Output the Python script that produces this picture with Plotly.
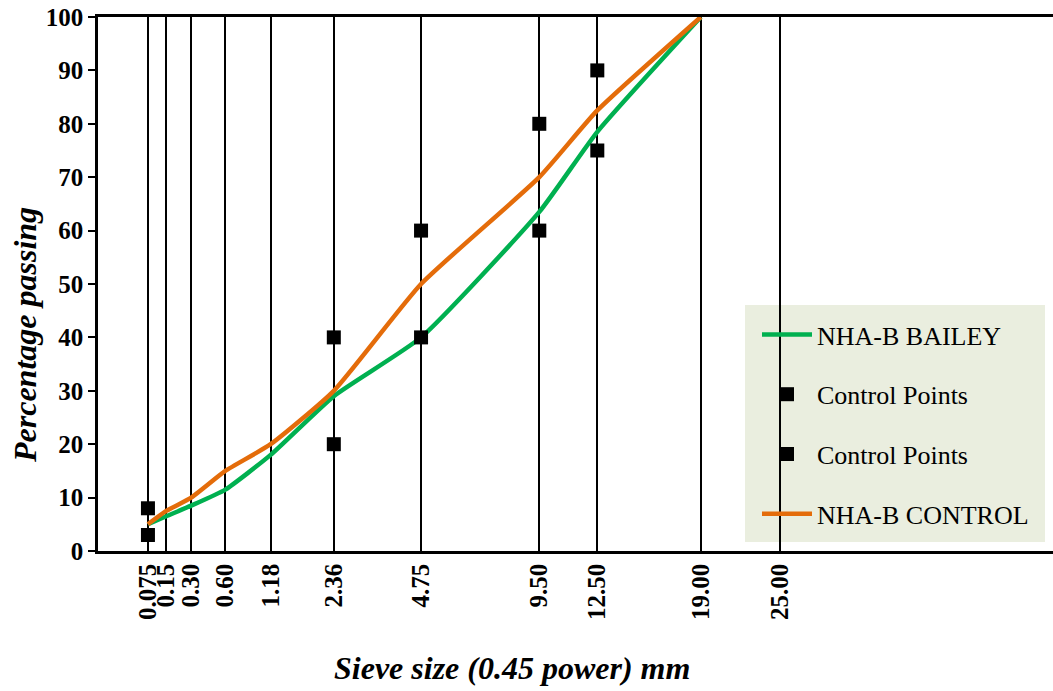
import plotly.graph_objects as go

sieve_sizes = [0.075, 0.15, 0.30, 0.60, 1.18, 2.36, 4.75, 9.50, 12.50, 19.00]
bailey = [5, 6.5, 8.5, 11.5, 18, 29, 40, 63.5, 78.5, 100]
control = [5, 7.5, 10, 15, 20, 30, 50, 70, 82.5, 100]

cp_sizes = [0.075, 2.36, 4.75, 9.50, 12.50]
cp_lower = [3, 20, 40, 60, 75]
cp_upper = [8, 40, 60, 80, 90]

tick_sizes = [0.075, 0.15, 0.30, 0.60, 1.18, 2.36, 4.75, 9.50, 12.50, 19.00, 25.00]
tick_labels = ["0.075", "0.15", "0.30", "0.60", "1.18", "2.36", "4.75", "9.50", "12.50", "19.00", "25.00"]

def p45(v):
    return [s ** 0.45 for s in v]

serif = "Liberation Serif, Times New Roman, serif"

fig = go.Figure()
fig.add_trace(go.Scatter(x=p45(sieve_sizes), y=bailey, mode="lines", name="NHA-B BAILEY",
                         line=dict(color="#00B050", width=4.5, shape="spline", smoothing=0.5),
                         legendgroup="a"))
fig.add_trace(go.Scatter(x=p45(cp_sizes), y=cp_lower, mode="markers", name="Control Points",
                         marker=dict(symbol="square", size=14, color="black"), legendgroup="b"))
fig.add_trace(go.Scatter(x=p45(cp_sizes), y=cp_upper, mode="markers", name="Control Points",
                         marker=dict(symbol="square", size=14, color="black"), legendgroup="c"))
fig.add_trace(go.Scatter(x=p45(sieve_sizes), y=control, mode="lines", name="NHA-B CONTROL",
                         line=dict(color="#E46C0A", width=4.5, shape="spline", smoothing=0.5),
                         legendgroup="d"))

# legend background box (grid line passes over it, as in the reference)
fig.add_shape(type="rect", xref="paper", yref="paper", layer="below",
              x0=(745 - 98) / 955, x1=(1045 - 98) / 955,
              y0=(551 - 542) / 534, y1=(551 - 305) / 534,
              fillcolor="#EAEEDF", line=dict(width=0))

fig.add_annotation(text="Percentage passing", xref="paper", yref="paper",
                   x=(25 - 98) / 955, y=(551 - 335) / 534, textangle=-90,
                   showarrow=False, xanchor="center", yanchor="middle",
                   font=dict(size=32, weight="bold", style="italic", family=serif))
fig.add_annotation(text="Sieve size (0.45 power) mm", xref="paper", yref="paper",
                   x=(512 - 98) / 955, y=(551 - 668) / 534,
                   showarrow=False, xanchor="center", yanchor="middle",
                   font=dict(size=32, weight="bold", style="italic", family=serif))

fig.update_layout(
    width=1053, height=691,
    margin=dict(l=98, r=0, t=17, b=140),
    paper_bgcolor="white", plot_bgcolor="white",
    font=dict(family=serif, color="black"),
    legend=dict(x=(757 - 98) / 955, y=(551 - 311) / 534, xanchor="left", yanchor="top",
                bgcolor="rgba(0,0,0,0)", font=dict(size=26, family=serif),
                traceorder="grouped", tracegroupgap=23, itemwidth=50),
    xaxis=dict(range=[0, 5.96], tickvals=p45(tick_sizes), ticktext=tick_labels,
               tickangle=-90, tickfont=dict(size=25, weight="bold"),
               showgrid=True, gridcolor="black", gridwidth=1.8,
               showline=True, linecolor="black", linewidth=2.5, mirror=True,
               ticks="", zeroline=False, automargin=False),
    yaxis=dict(range=[0, 100], dtick=10, tickfont=dict(size=25, weight="bold"),
               showgrid=False, showline=True, linecolor="black", linewidth=2.5,
               ticks="outside", ticklen=7, tickcolor="black", tickwidth=2,
               zeroline=False, automargin=False),
)

fig.write_html("out.html", config={"displayModeBar": False},
               post_script="document.body.style.margin='0';")
